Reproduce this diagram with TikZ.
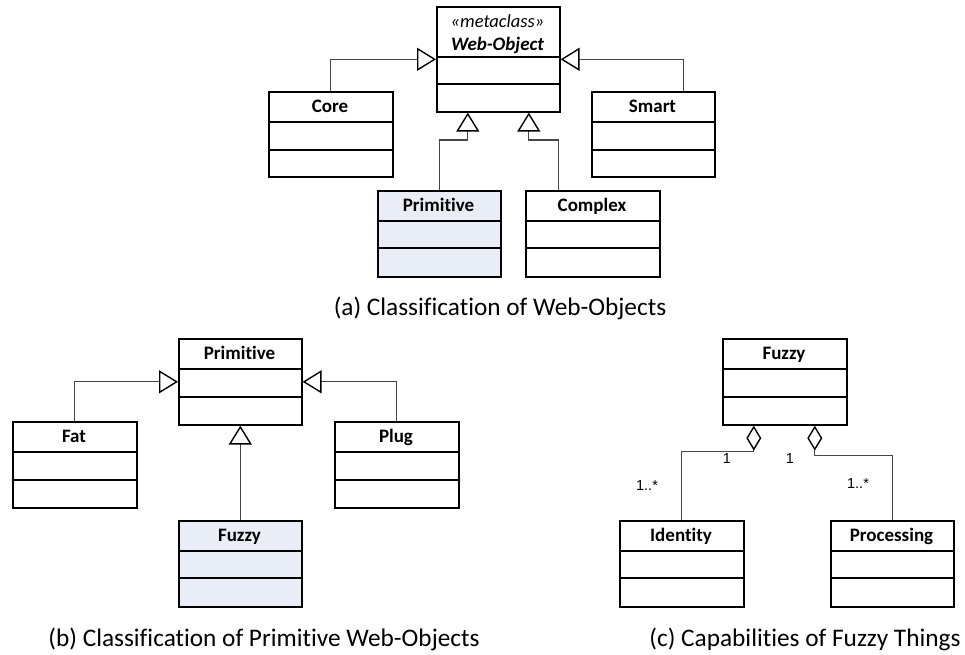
\documentclass[tikz,border=0pt]{standalone}
\usepackage{fontspec}
\setmainfont{Carlito}[Ligatures=NoCommon]
\newfontfamily\multfont{Liberation Sans}
\usetikzlibrary{arrows.meta}

\definecolor{classfill}{RGB}{233,237,245}
\definecolor{connector}{RGB}{70,70,70}

% #1 fill, #2 name, #3 left, #4 top, #5 right, #6 bottom, #7 first divider, #8 second divider, #9 title
\newcommand\umlclass[9][white]{%
  \node[cls, fill=#1, anchor=north west,
        minimum width={(#5-#3)*1pt}, minimum height={(#6-#4)*1pt}] (#2) at (#3,#4) {};
  \draw[divider] (#3,#7) -- (#5,#7);
  \draw[divider] (#3,#8) -- (#5,#8);
  \node[title] (#2-t) at ({(#3+#5)/2},{(#4+#7)/2+6}) {#9};
}

\begin{document}
\begin{tikzpicture}[x=1pt, y=-1pt,
  cls/.style={draw=black, line width=1.6pt, inner sep=0pt, rectangle},
  divider/.style={draw=black, line width=1.6pt},
  title/.style={anchor=base, inner sep=0pt, font=\bfseries\fontsize{19}{21}\selectfont},
  caption/.style={anchor=base, inner sep=0pt, font=\fontsize{25.3}{28}\selectfont},
  mult/.style={anchor=center, inner sep=0pt, font=\multfont\fontsize{14.5}{16}\selectfont},
  conn/.style={draw=connector, line width=1.1pt},
  gen/.style={conn, -{Triangle[open, length=19pt, width=23pt, line width=1.4pt, color=black]}},
  agg/.style={conn, {Diamond[open, length=25pt, width=15pt, line width=1.4pt, color=black]}-},
]
\useasboundingbox (0,0) rectangle (965,654);

% ---------- (a) Classification of Web-Objects ----------
\umlclass{wo}{436}{6}{559}{111}{57}{84}{}
\node[anchor=base, inner sep=0pt, font=\itshape\fontsize{18.5}{20}\selectfont] (wo-st) at (497.5,27) {«metaclass»};
\node[anchor=base, inner sep=0pt, font=\bfseries\itshape\fontsize{19}{21}\selectfont] (wo-n) at (497.5,50) {Web-Object};
\umlclass{core}{268}{91}{392}{176}{122}{150}{Core}
\umlclass{smart}{591}{91}{714}{176}{122}{150}{Smart}
\umlclass[classfill]{prim}{377}{190}{500}{276}{221}{248}{Primitive}
\umlclass{complex}{525}{190}{659}{276}{221}{248}{Complex}

\draw[gen] (core.north) |- (wo.west);
\draw[gen] ([xshift=30.5pt]smart.north) |- (wo.east);
\draw[gen] (prim.north) -- ++(0,-50) -| ([xshift=-30.5pt]wo.south);
\draw[gen] ([xshift=-34pt]complex.north) -- ++(0,-50) -| ([xshift=30.5pt]wo.south);

\node[caption] (capa) at (500,315) {(a) Classification of Web-Objects};

% ---------- (b) Classification of Primitive Web-Objects ----------
\umlclass{prim2}{178}{338}{301}{424}{369}{397}{Primitive}
\umlclass{fat}{12}{421}{136}{507}{452}{480}{Fat}
\umlclass{plug}{334}{421}{458}{507}{452}{480}{Plug}
\umlclass[classfill]{fuzzy}{178}{520}{301}{606}{551}{578}{Fuzzy}

\draw[gen] (fat.north) |- (prim2.west);
\draw[gen] (plug.north) |- (prim2.east);
\draw[gen] (fuzzy.north) -- (prim2.south);

\node[caption] (capb) at (264,646) {(b) Classification of Primitive Web-Objects};

% ---------- (c) Capabilities of Fuzzy Things ----------
\umlclass{fuzzy2}{722}{338}{846}{424}{369}{397}{Fuzzy}
\umlclass{ident}{619}{520}{743}{606}{551}{578}{Identity}
\umlclass{proc}{830}{520}{953}{606}{551}{578}{Processing}

\draw[agg] ([xshift=-31pt]fuzzy2.south) -- ++(0,26) -| (ident.north);
\draw[agg] ([xshift=30pt]fuzzy2.south) -- ++(0,30) -| (proc.north);

\node[mult] (m1) at (727,459) {1};
\node[mult] (m2) at (790,459) {1};
\node[mult] (m3) at (647,486) {1..*};
\node[mult] (m4) at (858,484) {1..*};

\node[caption] (capc) at (805,646) {(c) Capabilities of Fuzzy Things};
\end{tikzpicture}
\end{document}
